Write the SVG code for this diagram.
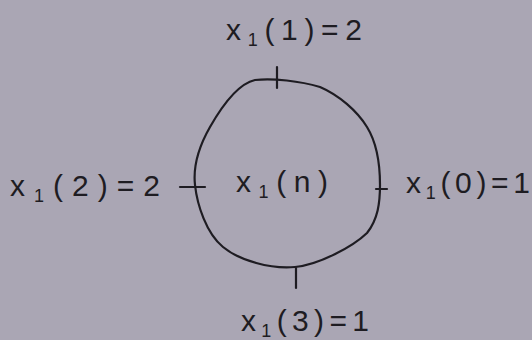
<svg xmlns="http://www.w3.org/2000/svg" width="532" height="340" viewBox="0 0 532 340">
<style>
.ink{fill:none;stroke:#1e1c22;stroke-width:2.2;stroke-linecap:round;stroke-linejoin:round}
.lbl{font-family:"Liberation Sans","DejaVu Sans",sans-serif;font-size:30px;fill:#1e1c22}
.sub{font-size:18px}
</style>
<rect width="532" height="340" fill="#aaa6b4"/>
<g id="signal">
<path class="ink" d="M255,80 C273,78 300,81 320,87 C338.7,95 357,110.8 367,127 C377,143.2 380,167.3 380,185 C380,202.7 378,219 367,233 C352.8,246.7 319,264.7 295,267 C271,269.3 239.7,260.7 223,247 C206.3,233.3 197.2,205 195,185 C192.8,165 200,144.5 210,127 C220,109.5 237,84 255,80 Z"/>
<text class="lbl" x="236" y="192" textLength="92" lengthAdjust="spacing">x<tspan class="sub" dy="6">1</tspan><tspan dy="-6">(n)</tspan></text>
</g>
<g id="connectors">
<path class="ink" d="M277,67 V88"/>
<path class="ink" d="M180,187 H205"/>
<path class="ink" d="M376,189 H387"/>
<path class="ink" d="M296,268 V288"/>
</g>
<g id="label-top">
<text class="lbl" x="226" y="40" textLength="136" lengthAdjust="spacing">x<tspan class="sub" dy="6">1</tspan><tspan dy="-6">(1)=2</tspan></text>
</g>
<g id="label-left">
<text class="lbl" x="10" y="196" textLength="150" lengthAdjust="spacing">x<tspan class="sub" dy="6">1</tspan><tspan dy="-6">(2)=2</tspan></text>
</g>
<g id="label-right">
<text class="lbl" x="406" y="193" textLength="124" lengthAdjust="spacing">x<tspan class="sub" dy="6">1</tspan><tspan dy="-6">(0)=1</tspan></text>
</g>
<g id="label-bottom">
<text class="lbl" x="241" y="331" textLength="128" lengthAdjust="spacing">x<tspan class="sub" dy="6">1</tspan><tspan dy="-6">(3)=1</tspan></text>
</g>
</svg>
